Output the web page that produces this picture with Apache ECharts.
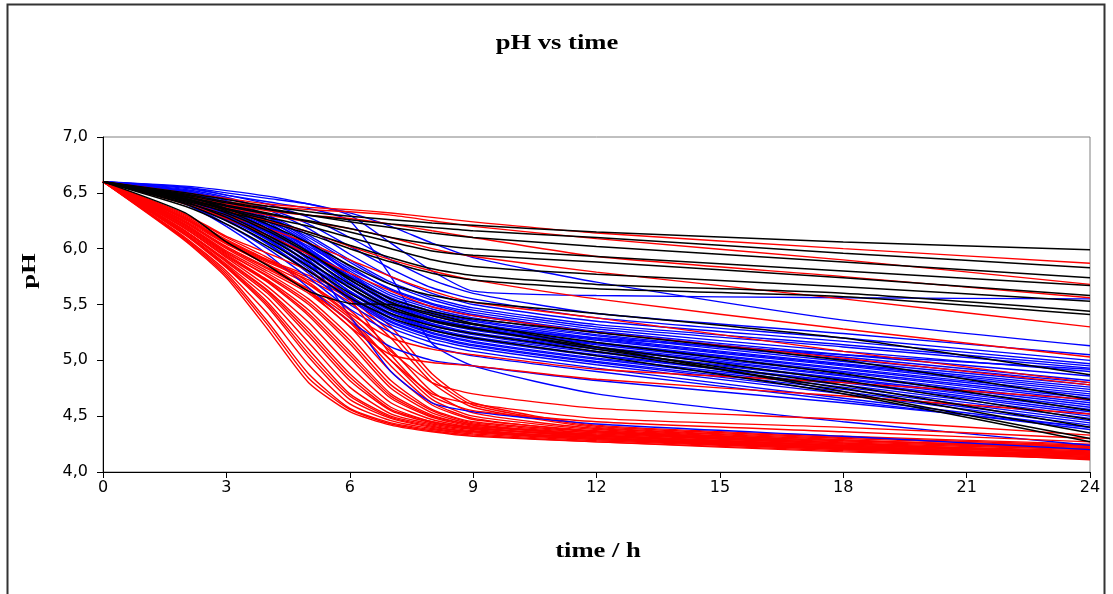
<!DOCTYPE html>
<html>
<head>
<meta charset="utf-8">
<script src="https://cdn.jsdelivr.net/npm/echarts@6/dist/echarts.min.js"></script>
<style>
html,body{margin:0;padding:0;background:#fff;}
#chart{width:1113px;height:594px;}
</style>
</head>
<body>
<div id="chart"></div>
<script>
// sampling times (h)
const hours = [0, 2, 3, 4, 5, 6, 7, 8, 9, 12, 18, 24];

// red curves: fast acidification
const redFast = [
  [6.60, 6.07, 5.74, 5.28, 4.80, 4.54, 4.42, 4.36, 4.32, 4.27, 4.19, 4.12],
  [6.60, 6.09, 5.78, 5.35, 4.88, 4.57, 4.44, 4.38, 4.34, 4.28, 4.20, 4.14],
  [6.60, 6.10, 5.80, 5.42, 4.96, 4.61, 4.46, 4.39, 4.35, 4.29, 4.21, 4.13],
  [6.60, 6.12, 5.83, 5.48, 5.03, 4.65, 4.48, 4.40, 4.36, 4.30, 4.22, 4.15],
  [6.60, 6.13, 5.85, 5.52, 5.10, 4.70, 4.50, 4.42, 4.37, 4.31, 4.22, 4.16],
  [6.60, 6.14, 5.86, 5.56, 5.16, 4.76, 4.52, 4.43, 4.38, 4.30, 4.21, 4.11],
  [6.60, 6.15, 5.88, 5.60, 5.22, 4.82, 4.55, 4.44, 4.39, 4.32, 4.23, 4.17],
  [6.60, 6.16, 5.90, 5.63, 5.28, 4.88, 4.58, 4.45, 4.39, 4.33, 4.24, 4.18],
  [6.60, 6.18, 5.92, 5.66, 5.34, 4.95, 4.62, 4.47, 4.40, 4.32, 4.22, 4.14],
  [6.60, 6.18, 5.93, 5.70, 5.40, 5.02, 4.66, 4.49, 4.41, 4.34, 4.25, 4.19],
  [6.60, 6.20, 5.95, 5.72, 5.45, 5.08, 4.70, 4.51, 4.42, 4.35, 4.26, 4.20],
  [6.60, 6.21, 5.97, 5.75, 5.50, 5.15, 4.75, 4.53, 4.43, 4.33, 4.23, 4.15],
  [6.60, 6.22, 5.98, 5.78, 5.55, 5.22, 4.82, 4.56, 4.45, 4.36, 4.27, 4.21],
  [6.60, 6.23, 6.00, 5.80, 5.60, 5.30, 4.90, 4.60, 4.47, 4.37, 4.28, 4.22],
  [6.60, 6.24, 6.02, 5.83, 5.64, 5.38, 5.00, 4.65, 4.50, 4.38, 4.28, 4.23],
  [6.60, 6.25, 6.04, 5.86, 5.68, 5.45, 5.10, 4.72, 4.53, 4.39, 4.29, 4.20],
  [6.60, 6.26, 6.05, 5.88, 5.72, 5.52, 5.20, 4.80, 4.58, 4.40, 4.30, 4.23],
  [6.60, 6.27, 6.07, 5.90, 5.76, 5.58, 5.30, 4.88, 4.62, 4.42, 4.32, 4.25],
  [6.60, 6.08, 5.76, 5.32, 4.84, 4.56, 4.43, 4.37, 4.33, 4.27, 4.18, 4.12],
  [6.60, 6.13, 5.84, 5.50, 5.06, 4.68, 4.49, 4.41, 4.36, 4.29, 4.20, 4.13],
  [6.60, 6.16, 5.89, 5.62, 5.25, 4.85, 4.56, 4.45, 4.40, 4.31, 4.21, 4.16],
  [6.60, 6.19, 5.94, 5.71, 5.42, 5.05, 4.68, 4.50, 4.42, 4.33, 4.24, 4.17],
  [6.60, 6.21, 5.96, 5.76, 5.52, 5.18, 4.78, 4.55, 4.44, 4.35, 4.25, 4.18],
  [6.60, 6.24, 6.01, 5.82, 5.62, 5.34, 4.95, 4.62, 4.48, 4.36, 4.26, 4.16],
  [6.60, 6.27, 6.06, 5.89, 5.74, 5.55, 5.25, 4.84, 4.60, 4.41, 4.31, 4.24]
];

// red curves: intermediate and slow acidification
const redSlow = [
  [6.60, 6.30, 6.10, 5.92, 5.70, 5.42, 5.20, 5.10, 5.05, 4.92, 4.80, 4.65],
  [6.60, 6.28, 6.06, 5.86, 5.62, 5.30, 5.05, 4.98, 4.95, 4.83, 4.68, 4.52],
  [6.60, 6.29, 6.08, 5.90, 5.68, 5.40, 5.08, 4.80, 4.70, 4.57, 4.47, 4.33],
  [6.60, 6.27, 6.05, 5.85, 5.62, 5.35, 5.00, 4.70, 4.61, 4.48, 4.40, 4.30],
  [6.60, 6.31, 6.11, 5.96, 5.80, 5.55, 5.05, 4.68, 4.55, 4.45, 4.36, 4.27],
  [6.60, 6.50, 6.45, 6.40, 6.37, 6.35, 6.32, 6.28, 6.24, 6.14, 6.00, 5.87],
  [6.60, 6.48, 6.42, 6.38, 6.35, 6.33, 6.30, 6.25, 6.20, 6.09, 5.90, 5.68],
  [6.60, 6.47, 6.40, 6.34, 6.30, 6.27, 6.22, 6.16, 6.10, 5.93, 5.75, 5.56],
  [6.60, 6.45, 6.37, 6.30, 6.24, 6.18, 6.10, 6.00, 5.93, 5.79, 5.55, 5.30],
  [6.60, 6.44, 6.34, 6.25, 6.15, 6.02, 5.90, 5.80, 5.72, 5.55, 5.28, 5.03],
  [6.60, 6.42, 6.30, 6.18, 6.05, 5.90, 5.75, 5.62, 5.52, 5.38, 5.08, 4.80],
  [6.60, 6.40, 6.27, 6.12, 5.95, 5.78, 5.62, 5.48, 5.40, 5.25, 5.02, 4.78]
];

// blue curves
const blueCurves = [
  [6.60, 6.55, 6.50, 6.45, 6.40, 6.30, 6.05, 5.80, 5.62, 5.58, 5.56, 5.55],
  [6.60, 6.56, 6.52, 6.47, 6.40, 6.32, 6.20, 6.05, 5.92, 5.70, 5.36, 5.13],
  [6.60, 6.50, 6.40, 6.20, 5.90, 5.40, 4.90, 4.62, 4.54, 4.43, 4.32, 4.20],
  [6.60, 6.55, 6.48, 6.42, 6.36, 6.25, 5.75, 5.15, 4.95, 4.70, 4.45, 4.24],
  [6.60, 6.54, 6.48, 6.40, 6.28, 6.10, 5.90, 5.72, 5.60, 5.42, 5.24, 5.05],
  [6.60, 6.52, 6.45, 6.36, 6.22, 6.02, 5.82, 5.65, 5.55, 5.38, 5.20, 5.00],
  [6.60, 6.53, 6.46, 6.35, 6.18, 5.95, 5.75, 5.60, 5.50, 5.35, 5.17, 4.97],
  [6.60, 6.50, 6.42, 6.30, 6.12, 5.90, 5.70, 5.56, 5.47, 5.32, 5.14, 4.95],
  [6.60, 6.51, 6.40, 6.28, 6.10, 5.88, 5.68, 5.54, 5.45, 5.30, 5.12, 4.93],
  [6.60, 6.49, 6.38, 6.25, 6.05, 5.82, 5.64, 5.51, 5.43, 5.28, 5.08, 4.90],
  [6.60, 6.52, 6.43, 6.30, 6.08, 5.84, 5.63, 5.50, 5.41, 5.26, 5.05, 4.86],
  [6.60, 6.48, 6.36, 6.22, 6.02, 5.80, 5.60, 5.48, 5.40, 5.25, 5.03, 4.82],
  [6.60, 6.50, 6.40, 6.26, 6.04, 5.78, 5.58, 5.46, 5.38, 5.23, 5.01, 4.80],
  [6.60, 6.47, 6.34, 6.18, 5.98, 5.75, 5.56, 5.44, 5.36, 5.22, 4.99, 4.78],
  [6.60, 6.49, 6.37, 6.22, 6.00, 5.76, 5.55, 5.43, 5.35, 5.20, 4.97, 4.76],
  [6.60, 6.51, 6.41, 6.28, 6.06, 5.78, 5.54, 5.41, 5.33, 5.19, 4.96, 4.74],
  [6.60, 6.46, 6.32, 6.15, 5.95, 5.72, 5.52, 5.40, 5.32, 5.18, 4.95, 4.72],
  [6.60, 6.48, 6.35, 6.20, 5.98, 5.72, 5.51, 5.38, 5.30, 5.16, 4.93, 4.70],
  [6.60, 6.50, 6.39, 6.24, 6.00, 5.73, 5.50, 5.37, 5.29, 5.15, 4.92, 4.68],
  [6.60, 6.45, 6.30, 6.12, 5.92, 5.68, 5.48, 5.36, 5.28, 5.14, 4.90, 4.66],
  [6.60, 6.47, 6.33, 6.17, 5.95, 5.70, 5.48, 5.35, 5.27, 5.12, 4.89, 4.64],
  [6.60, 6.49, 6.37, 6.21, 5.97, 5.69, 5.46, 5.33, 5.25, 5.11, 4.87, 4.62],
  [6.60, 6.44, 6.29, 6.10, 5.88, 5.65, 5.45, 5.32, 5.24, 5.10, 4.86, 4.60],
  [6.60, 6.46, 6.31, 6.14, 5.92, 5.66, 5.44, 5.31, 5.23, 5.08, 4.84, 4.58],
  [6.60, 6.48, 6.35, 6.18, 5.94, 5.65, 5.42, 5.29, 5.21, 5.07, 4.83, 4.56],
  [6.60, 6.43, 6.27, 6.08, 5.85, 5.62, 5.41, 5.28, 5.20, 5.05, 4.81, 4.54],
  [6.60, 6.45, 6.30, 6.12, 5.88, 5.62, 5.40, 5.27, 5.19, 5.04, 4.80, 4.52],
  [6.60, 6.47, 6.33, 6.15, 5.90, 5.61, 5.38, 5.25, 5.17, 5.02, 4.78, 4.50],
  [6.60, 6.44, 6.28, 6.09, 5.84, 5.58, 5.37, 5.24, 5.16, 5.01, 4.76, 4.48],
  [6.60, 6.46, 6.31, 6.12, 5.86, 5.57, 5.35, 5.22, 5.14, 4.99, 4.74, 4.46],
  [6.60, 6.42, 6.25, 6.05, 5.80, 5.55, 5.34, 5.21, 5.13, 4.98, 4.72, 4.44],
  [6.60, 6.45, 6.29, 6.08, 5.82, 5.54, 5.32, 5.19, 5.11, 4.96, 4.70, 4.42],
  [6.60, 6.43, 6.26, 6.04, 5.78, 5.50, 5.29, 5.16, 5.08, 4.93, 4.66, 4.40],
  [6.60, 6.41, 6.22, 6.00, 5.74, 5.46, 5.25, 5.12, 5.04, 4.90, 4.64, 4.38],
  [6.60, 6.50, 6.38, 6.22, 6.00, 5.75, 5.52, 5.38, 5.30, 5.20, 5.05, 4.92],
  [6.60, 6.40, 6.20, 5.95, 5.65, 5.35, 5.12, 5.00, 4.95, 4.82, 4.62, 4.40]
];

// black curves
const blackCurves = [
  [6.60, 6.50, 6.44, 6.38, 6.33, 6.29, 6.26, 6.23, 6.21, 6.15, 6.06, 5.99],
  [6.60, 6.48, 6.41, 6.35, 6.30, 6.26, 6.22, 6.19, 6.16, 6.10, 5.96, 5.83],
  [6.60, 6.49, 6.42, 6.36, 6.30, 6.24, 6.19, 6.14, 6.10, 6.02, 5.88, 5.74],
  [6.60, 6.46, 6.38, 6.31, 6.25, 6.18, 6.10, 6.04, 6.00, 5.93, 5.80, 5.67],
  [6.60, 6.47, 6.39, 6.32, 6.24, 6.15, 6.06, 5.98, 5.94, 5.88, 5.74, 5.58],
  [6.60, 6.45, 6.36, 6.28, 6.20, 6.10, 6.00, 5.90, 5.84, 5.77, 5.66, 5.53],
  [6.60, 6.44, 6.35, 6.26, 6.15, 6.03, 5.92, 5.82, 5.76, 5.68, 5.60, 5.44],
  [6.60, 6.43, 6.33, 6.24, 6.13, 6.00, 5.88, 5.78, 5.72, 5.64, 5.57, 5.41],
  [6.60, 6.47, 6.36, 6.22, 6.05, 5.85, 5.68, 5.58, 5.52, 5.42, 5.20, 4.87],
  [6.60, 6.44, 6.32, 6.16, 5.96, 5.74, 5.55, 5.44, 5.37, 5.25, 5.00, 4.65],
  [6.60, 6.42, 6.28, 6.10, 5.88, 5.65, 5.46, 5.35, 5.28, 5.12, 4.82, 4.47],
  [6.60, 6.40, 6.25, 6.06, 5.84, 5.60, 5.42, 5.31, 5.24, 5.08, 4.75, 4.35],
  [6.60, 6.32, 6.06, 5.85, 5.62, 5.51, 5.50, 5.42, 5.33, 5.12, 4.72, 4.30],
  [6.60, 6.38, 6.22, 6.02, 5.80, 5.56, 5.38, 5.27, 5.20, 5.04, 4.70, 4.27],
  [6.60, 6.45, 6.34, 6.18, 5.97, 5.72, 5.52, 5.40, 5.32, 5.16, 4.88, 4.55],
  [6.60, 6.41, 6.30, 6.12, 5.92, 5.68, 5.48, 5.36, 5.29, 5.10, 4.78, 4.40]
];

const chart = echarts.init(document.getElementById('chart'), null, {renderer: 'canvas'});

function makeSeries(curves, color, width) {
  return curves.map(c => ({
    type: 'line',
    data: hours.map((h, i) => [h, c[i]]),
    smooth: 0.2,
    symbol: 'none',
    silent: true,
    lineStyle: {color: color, width: width},
    emphasis: {disabled: true}
  }));
}

const series = []
  .concat(makeSeries(redFast, '#FF0000', 1.4))
  .concat(makeSeries(blueCurves, '#0000FF', 1.4))
  .concat(makeSeries(redSlow, '#FF0000', 1.4))
  .concat(makeSeries(blackCurves, '#000000', 1.5));

const serif = '"Liberation Serif", "Times New Roman", serif';

chart.setOption({
  animation: false,
  backgroundColor: '#ffffff',
  grid: {
    left: 103, right: 23, top: 137, bottom: 122,
    show: true, borderColor: '#808080', borderWidth: 1, backgroundColor: 'transparent'
  },
  xAxis: {
    type: 'value', min: 0, max: 24, interval: 3,
    axisLine: {show: true, onZero: false, lineStyle: {color: '#000', width: 1}},
    axisTick: {show: true, inside: false, length: 6, lineStyle: {color: '#000'}},
    axisLabel: {color: '#000', fontFamily: '"DejaVu Sans", Arial, sans-serif', fontSize: 16, margin: 8},
    splitLine: {show: false}
  },
  yAxis: {
    type: 'value', min: 4, max: 7, interval: 0.5,
    axisLine: {show: true, lineStyle: {color: '#000', width: 1}},
    axisTick: {show: true, inside: false, length: 6, lineStyle: {color: '#000'}},
    axisLabel: {
      color: '#000', fontFamily: '"DejaVu Sans", Arial, sans-serif', fontSize: 16, margin: 15,
      formatter: v => v.toFixed(1).replace('.', ',')
    },
    splitLine: {show: false}
  },
  graphic: [
    {type: 'rect', z: -10, silent: true, shape: {x: 7.5, y: 4.5, width: 1097, height: 600},
     style: {fill: 'transparent', stroke: '#333', lineWidth: 2}},
    {type: 'text', silent: true, x: 557, y: 44, scaleX: 1.33,
     style: {text: 'pH vs time', font: 'bold 20px ' + serif, fill: '#000', textAlign: 'center', textVerticalAlign: 'middle'}},
    {type: 'text', silent: true, x: 598, y: 552, scaleX: 1.33,
     style: {text: 'time / h', font: 'bold 20px ' + serif, fill: '#000', textAlign: 'center', textVerticalAlign: 'middle'}},
    {type: 'text', silent: true, x: 30, y: 271, rotation: Math.PI / 2, scaleX: 1.4, scaleY: 0.95,
     style: {text: 'pH', font: 'bold 19px ' + serif, fill: '#000', textAlign: 'center', textVerticalAlign: 'middle'}}
  ],
  series: series
});
</script>
</body>
</html>
